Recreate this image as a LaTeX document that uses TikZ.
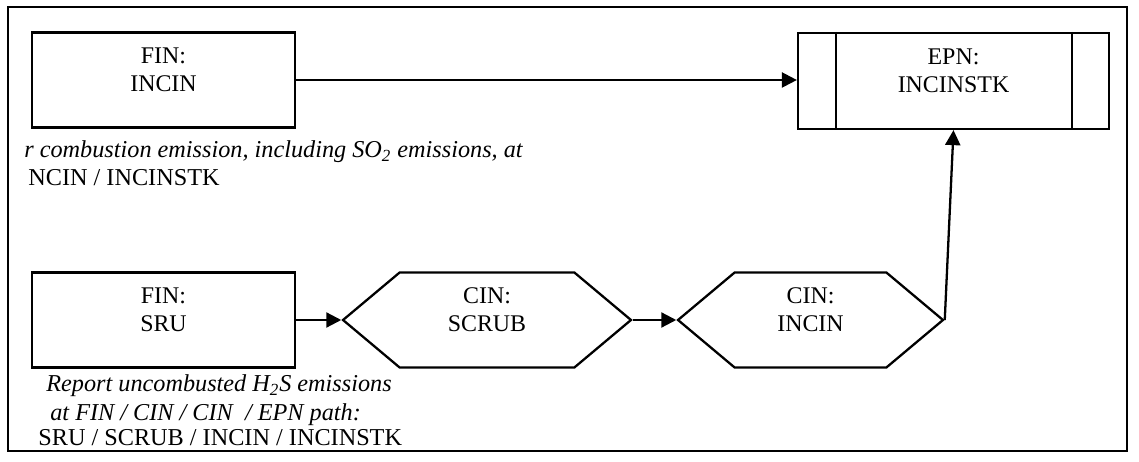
\documentclass[tikz,border=0pt]{standalone}
\usepackage{fontspec}
\setmainfont{Liberation Serif}
\usepackage{tikz}
\usetikzlibrary{arrows.meta,shapes.symbols}
\newcommand{\twoline}[2]{#1\\#2\\[-4pt]\mbox{}}

\begin{document}
\begin{tikzpicture}[x=0.02cm,y=-0.02cm,
    unitbox/.style={draw,line width=1.3pt,minimum width=5.26cm,minimum height=1.9cm,
      align=center,font=\fontsize{13.6}{15.9}\selectfont,inner sep=0pt},
    hexbox/.style={draw,line width=1.3pt,signal,signal to=west and east,
      signal pointer angle=80,minimum height=1.9cm,
      align=center,font=\fontsize{13.6}{15.9}\selectfont,inner sep=0pt},
    note/.style={anchor=base west,inner sep=0pt,font=\fontsize{13.8}{15}\selectfont}]
  \useasboundingbox (0,0) rectangle (1139,462);
  \draw [line width=1.1pt] (8,7) rectangle (1127,451);

  \node [unitbox] (fininc) at (163.5,80) {\twoline{FIN:}{INCIN}};
  \node [unitbox] (finsru) at (163.5,320) {\twoline{FIN:}{SRU}};
  \node [hexbox,minimum width=5.76cm] (cinscr) at (487,320) {\twoline{CIN:}{SCRUB}};
  \node [hexbox,minimum width=5.3cm] (cininc) at (810.5,320) {\twoline{CIN:}{INCIN}};
  \node [unitbox,minimum width=6.22cm,minimum height=1.92cm] (epn) at (953.5,81) {\twoline{EPN:}{INCINSTK}};
  \draw [line width=1.3pt] ([xshift=0.78cm]epn.north west) -- ([xshift=0.78cm]epn.south west);
  \draw [line width=1.3pt] ([xshift=-0.76cm]epn.north east) -- ([xshift=-0.76cm]epn.south east);

  \node [note] (topa) at (24,158) {\textit{r combustion emission, including SO\textsubscript{2} emissions, at}};
  \node [note] (topb) at (28,186) {NCIN / INCINSTK};
  \node [note] (bota) at (46,392) {\textit{Report uncombusted H\textsubscript{2}S emissions}};
  \node [note] (botb) at (50,420) {\textit{at FIN / CIN / CIN~ / EPN path:}};
  \node [note] (botc) at (38,445) {SRU / SCRUB / INCIN / INCINSTK};

  \draw [-{Triangle[length=0.3cm,width=0.3cm]}][black,line width=1.3pt] (fininc.east) -- (fininc.east -| epn.west);
  \draw [-{Triangle[length=0.3cm,width=0.3cm]}][black,line width=1.3pt] (finsru.east) -- (cinscr.west);
  \draw [-{Triangle[length=0.3cm,width=0.3cm]}][black,line width=1.3pt] (cinscr.east) -- (cininc.west);
  \draw [-{Triangle[length=0.3cm,width=0.3cm]}][black,line width=1.3pt] (cininc.east) -- (epn.south);
\end{tikzpicture}
\end{document}
